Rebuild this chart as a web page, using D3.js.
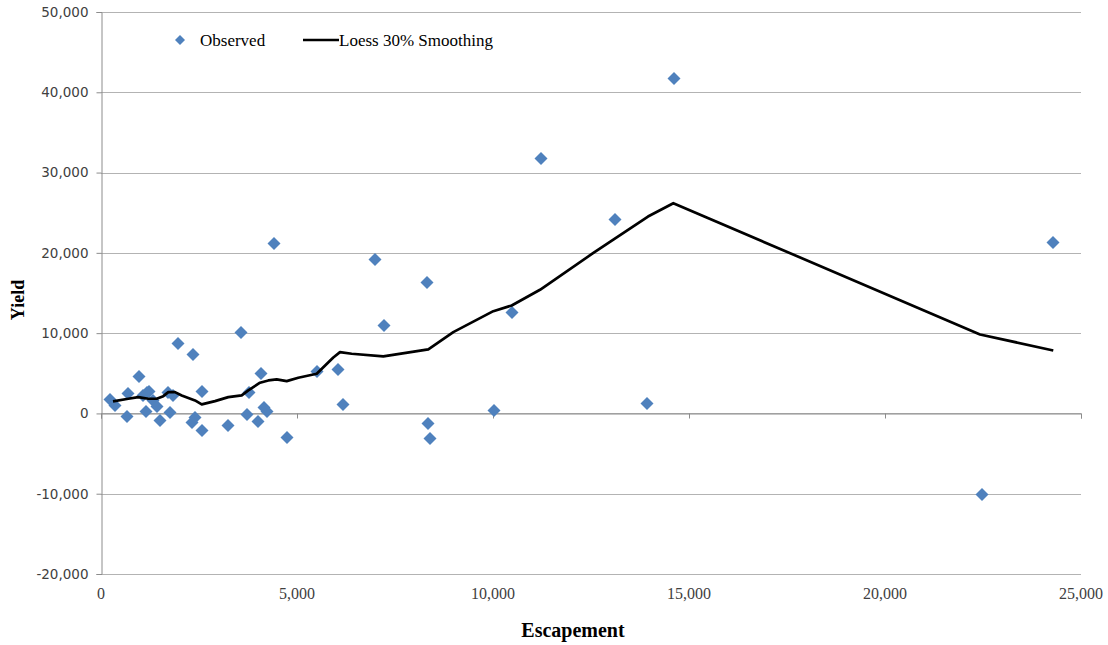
<!DOCTYPE html>
<html>
<head>
<meta charset="utf-8">
<script src="https://cdn.jsdelivr.net/npm/d3@7"></script>
<style>
  html, body { margin: 0; padding: 0; background: #ffffff; }
  svg { display: block; }
</style>
</head>
<body>
<svg id="chart" width="1108" height="645"></svg>
<script>
// Observed points: escapement (x) and yield (y)
const obsEscapement = [230, 357, 689, 663, 969, 1071, 1173, 1148, 1224, 1327, 1429, 1505, 1709, 1760, 1837, 1964,
  2321, 2347, 2398, 2577, 2577, 3240, 3571, 3724, 3775, 4005, 4082, 4158, 4235, 4413, 4745, 5510, 6046, 6173,
  6990, 7219, 8316, 8342, 8393, 10025, 10484, 11224, 13112, 13928, 14617, 22474, 24286];
const obsYield = [1743, 996, 2490, -374, 4607, 2241, 2615, 249, 2740, 1619, 872, -872, 2615, 125, 2241, 8715,
  -1121, 7346, -498, -2117, 2740, -1494, 10085, -125, 2615, -996, 4980, 747, 249, 21165, -2988, 5229, 5478, 1121,
  19173, 10956, 16310, -1245, -3113, 374, 12575, 31748, 24153, 1245, 41708, -10085, 21290];

// Loess 30% smoothing curve
const loessEscapement = [306, 696, 952, 1207, 1421, 1589, 1717, 1888, 2059, 2398, 2569, 2908, 3247, 3589, 3758,
  4056, 4268, 4482, 4737, 5033, 5503, 5926, 6097, 6395, 7202, 8350, 8987, 10008, 10477, 11199, 12551, 13954,
  14600, 22424, 24293];
const loessYield = [1494, 1830, 2029, 1830, 1830, 2154, 2652, 2652, 2241, 1619, 1121, 1531, 2029, 2241, 2864,
  3822, 4109, 4233, 4021, 4445, 4943, 6972, 7632, 7433, 7097, 7968, 10122, 12736, 13446, 15401, 19957, 24527,
  26182, 9836, 7844];

const xTicks = [0, 5000, 10000, 15000, 20000, 25000];
const yTicks = [-20000, -10000, 0, 10000, 20000, 30000, 40000, 50000];
const seriesNames = ["Observed", "Loess 30% Smoothing"];
const xTitle = "Escapement";
const yTitle = "Yield";

const svg = d3.select("#chart");
const plotL = 101, plotR = 1081, plotT = 12, plotB = 574;
const x = d3.scaleLinear().domain([0, 25000]).range([plotL, plotR]);
const y = d3.scaleLinear().domain([-20000, 50000]).range([plotB, plotT]);
const locale = d3.formatLocale({ decimal: ".", thousands: ",", grouping: [3], currency: ["$", ""], minus: "-" });
const fmt = locale.format(",");
const blue = "#4F81BD";

// gridlines
svg.append("g").selectAll("line").data(yTicks).join("line")
  .attr("x1", plotL).attr("x2", plotR)
  .attr("y1", d => Math.round(y(d)) + 0.5).attr("y2", d => Math.round(y(d)) + 0.5)
  .attr("stroke", "#b3b3b3").attr("stroke-width", 1);

// y axis
const yAxis = svg.append("g").attr("transform", `translate(${plotL + 0.5},0)`)
  .call(d3.axisLeft(y).tickValues(yTicks).tickFormat(fmt).tickSizeOuter(0).tickSize(5).tickPadding(8));
yAxis.select(".domain").attr("stroke", "#8c8c8c");
yAxis.selectAll(".tick line").attr("stroke", "#8c8c8c");
yAxis.selectAll("text").attr("font-family", "DejaVu Sans").attr("font-size", "13.5px").attr("fill", "#404040");

// x axis line at zero with ticks
const xAxis = svg.append("g").attr("transform", `translate(0,${Math.round(y(0)) + 0.5})`)
  .call(d3.axisBottom(x).tickValues(xTicks).tickFormat("").tickSizeOuter(0).tickSize(5));
xAxis.select(".domain").attr("stroke", "#8c8c8c");
xAxis.selectAll(".tick line").attr("stroke", "#8c8c8c");

// x tick labels at bottom
svg.append("g").selectAll("text").data(xTicks).join("text")
  .attr("x", d => x(d)).attr("y", 599)
  .attr("text-anchor", "middle")
  .attr("font-family", "Liberation Serif").attr("font-size", "16px").attr("fill", "#404040")
  .text(d => fmt(d));

// axis titles
svg.append("text").attr("x", 573).attr("y", 637).attr("text-anchor", "middle")
  .attr("font-family", "Liberation Serif").attr("font-weight", "bold").attr("font-size", "20px")
  .attr("fill", "#000").text(xTitle);
svg.append("text").attr("transform", "translate(24,300) rotate(-90)").attr("text-anchor", "middle")
  .attr("font-family", "Liberation Serif").attr("font-weight", "bold").attr("font-size", "18px")
  .attr("fill", "#000").text(yTitle);

// diamond path
const diamond = r => `M0,${-r}L${r},0L0,${r}L${-r},0Z`;

// observed points
const obs = obsEscapement.map((d, i) => ({ x: d, y: obsYield[i] }));
svg.append("g").selectAll("path").data(obs).join("path")
  .attr("transform", d => `translate(${x(d.x)},${y(d.y)})`)
  .attr("d", diamond(6.5)).attr("fill", blue);

// loess line
const loess = loessEscapement.map((d, i) => ({ x: d, y: loessYield[i] }));
svg.append("path").datum(loess)
  .attr("d", d3.line().x(d => x(d.x)).y(d => y(d.y)))
  .attr("fill", "none").attr("stroke", "#000").attr("stroke-width", 2.7).attr("stroke-linejoin", "round");

// legend
const lg = svg.append("g");
lg.append("path").attr("transform", "translate(180,40)").attr("d", diamond(5)).attr("fill", blue);
lg.append("text").attr("x", 200).attr("y", 46).attr("font-family", "Liberation Serif").attr("font-size", "17px")
  .attr("fill", "#000").text(seriesNames[0]);
lg.append("line").attr("x1", 303).attr("x2", 339).attr("y1", 40).attr("y2", 40)
  .attr("stroke", "#000").attr("stroke-width", 2.7);
lg.append("text").attr("x", 339).attr("y", 46).attr("font-family", "Liberation Serif").attr("font-size", "17px")
  .attr("fill", "#000").text(seriesNames[1]);
</script>
</body>
</html>
